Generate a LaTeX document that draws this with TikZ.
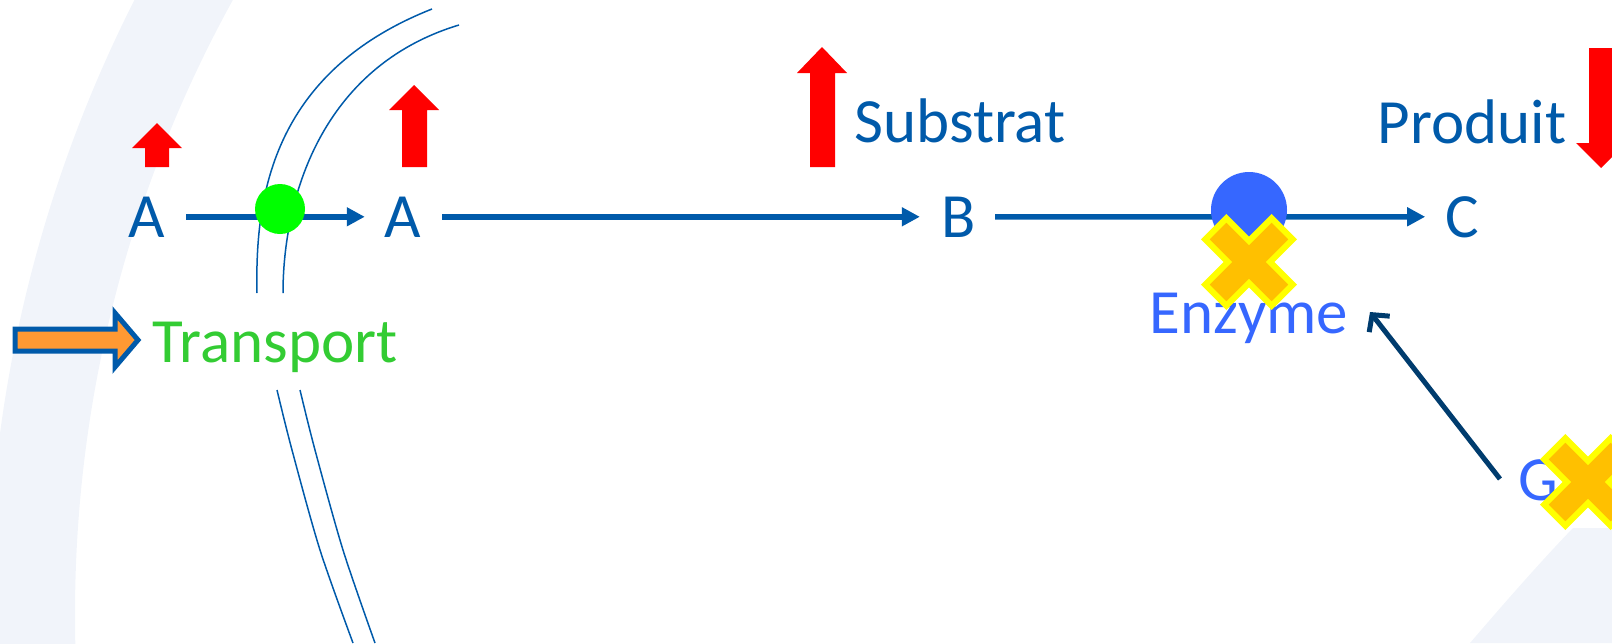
\documentclass[tikz,border=0pt]{standalone}
\usepackage{fontspec}
\setmainfont{Carlito}
\usetikzlibrary{arrows.meta}
\definecolor{dblue}{RGB}{0,90,170}
\definecolor{pale}{RGB}{241,244,250}
\definecolor{gfont}{RGB}{51,204,51}
\definecolor{eblue}{RGB}{54,103,255}
\definecolor{navy}{RGB}{0,60,110}
\definecolor{xfill}{RGB}{255,192,0}
\definecolor{xline}{RGB}{255,255,0}
\definecolor{orng}{RGB}{255,153,51}
\definecolor{grn}{RGB}{0,255,0}
\begin{document}
\begin{tikzpicture}[x=1pt,y=-1pt,
  lbl/.style={inner sep=0pt, outer sep=0pt, anchor=base, font=\fontsize{63}{63}\selectfont},
  flow/.style={draw=dblue, line width=5.5pt, -{Triangle[length=18pt,width=18pt]}},
  ctrl/.style={draw=navy, line width=5pt, -{Straight Barb[length=12pt,width=26pt]}},
  redarrow/.style={fill=red},
  memb/.style={draw=dblue, line width=1.5pt},
  cross/.style={fill=xfill, draw=xline, line width=6pt, line join=miter},
  dot/.style={circle, inner sep=0pt, outer sep=0pt},
  xmark/.pic={\filldraw[cross, rotate=45] (47,15) -- (15,15) -- (15,47) -- (-15,47) -- (-15,15) -- (-47,15) -- (-47,-15) -- (-15,-15) -- (-15,-47) -- (15,-47) -- (15,-15) -- (47,-15) -- cycle;}
]
\useasboundingbox (0,0) rectangle (1612,643);
\clip (0,0) rectangle (1612,643);
% background
\fill[pale, even odd rule] (1350,615) circle (1362pt) (1350,615) circle (1275pt);
\fill[pale] (1470,643) .. controls (1500,608) and (1540,562) .. (1573,528) -- (1612,528) -- (1612,643) -- cycle;
% membrane
\draw[memb] (432,9) .. controls (270,73) and (255,200) .. (257,293);
\draw[memb] (459,25) .. controls (320,67) and (283,200) .. (283,293);
\draw[memb] plot[smooth] coordinates {(277,390) (292,450) (320,550) (353,643)};
\draw[memb] plot[smooth] coordinates {(300,390) (315,450) (343,550) (375,643)};
% labels
\node[lbl, text=dblue] (A1) at (147,237) {A};
\node[lbl, text=dblue] (A2) at (403,237) {A};
\node[lbl, text=dblue] (B) at (959,237) {B};
\node[lbl, text=dblue] (C) at (1462,237) {C};
\node[lbl, text=dblue] (sub) at (960,142) {Substrat};
\node[lbl, text=dblue] (prod) at (1472,143) {Produit};
\node[lbl, text=gfont] (trans) at (275,362) {Transport};
\node[lbl, text=eblue] (enzlbl) at (1249,333) {Enzyme};
\node[lbl, text=eblue] (G) at (1538,500) {G};
% connectors
\draw[flow, shorten <=21pt, shorten >=20pt] (A1) -- (A2);
\draw[flow, shorten <=21pt, shorten >=22pt] (A2) -- (B);
\draw[flow, shorten <=19pt, shorten >=20pt] (B) -- (C);
\coordinate (gtail) at (1500,479);
\coordinate (etip) at (1370,312);
\draw[ctrl] (gtail) -- (etip);
% transporter and enzyme
\node[dot, fill=grn, minimum size=50pt] (tr) at (280,209) {};
\node[dot, fill=eblue, minimum size=76pt] (enz) at (1249,210) {};
% red arrows
\fill[redarrow] (145,167) -- (169,167) -- (169,148) -- (182,148) -- (157,123) -- (132,148) -- (145,148) -- cycle;
\fill[redarrow] (402,167) -- (427,167) -- (427,110) -- (439,110) -- (414,85) -- (389,110) -- (402,110) -- cycle;
\fill[redarrow] (810,167) -- (835,167) -- (835,73) -- (847,73) -- (822,47) -- (797,73) -- (810,73) -- cycle;
\fill[redarrow] (1589,48) -- (1614,48) -- (1614,143) -- (1626,143) -- (1601,168) -- (1576,143) -- (1589,143) -- cycle;
% block arrow
\filldraw[fill=orng, draw=dblue, line width=5pt, line join=miter] (15,329) -- (115,329) -- (115,313) -- (138,340) -- (115,367) -- (115,351) -- (15,351) -- cycle;
% crosses
\pic at (1249,262) {xmark};
\pic at (1588,482) {xmark};
\end{tikzpicture}
\end{document}
